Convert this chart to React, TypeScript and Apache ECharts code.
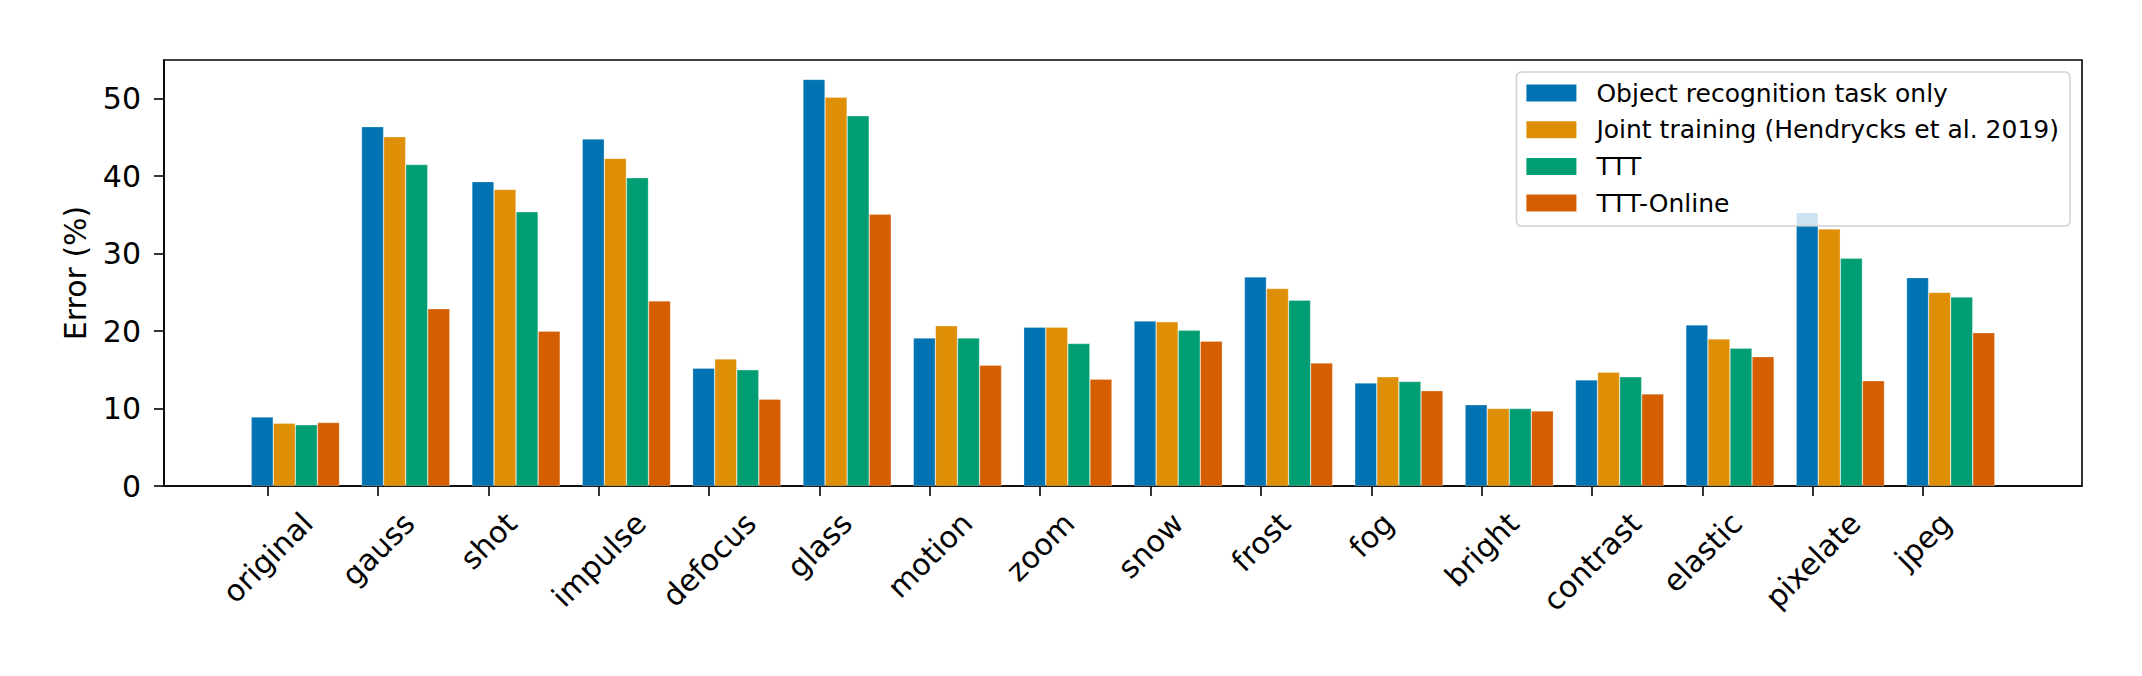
import { useEffect, useRef } from 'react';
import * as echarts from 'echarts';

// categories (corruption types) and one array per method, error in %
const CATEGORIES = [
  'original', 'gauss', 'shot', 'impulse', 'defocus', 'glass', 'motion', 'zoom',
  'snow', 'frost', 'fog', 'bright', 'contrast', 'elastic', 'pixelate', 'jpeg',
];
const SERIES_NAMES = [
  'Object recognition task only',
  'Joint training (Hendrycks et al. 2019)',
  'TTT',
  'TTT-Online',
];
const OBJECT_ONLY = [8.9, 46.4, 39.3, 44.8, 15.2, 52.5, 19.1, 20.5, 21.3, 27.0, 13.3, 10.5, 13.7, 20.8, 35.3, 26.9];
const JOINT = [8.1, 45.1, 38.3, 42.3, 16.4, 50.2, 20.7, 20.5, 21.2, 25.5, 14.1, 10.0, 14.7, 19.0, 33.2, 25.0];
const TTT = [7.9, 41.5, 35.4, 39.8, 15.0, 47.8, 19.1, 18.4, 20.1, 24.0, 13.5, 10.0, 14.1, 17.8, 29.4, 24.4];
const TTT_ONLINE = [8.2, 22.9, 20.0, 23.9, 11.2, 35.1, 15.6, 13.8, 18.7, 15.9, 12.3, 9.7, 11.9, 16.7, 13.6, 19.8];
const Y_TICKS = [0, 10, 20, 30, 40, 50];

const COLORS = ['#0173b2', '#de8f05', '#029e73', '#d55e00'];
const FONT = '"DejaVu Sans", sans-serif';

const WIDTH = 2142;
const HEIGHT = 676;
const GRID = { left: 164, right: 60, top: 60, bottom: 190 };
const X_MIN = -0.94;
const X_MAX = 16.44;
const GROUP_SHIFT = 0.25; // bar group centre sits a quarter unit right of the tick
const BAR_UNITS = 0.2;
const TICK_FONT = 30;

function textWidth(t: string, size: number) {
  const ctx = document.createElement('canvas').getContext('2d');
  if (!ctx) return t.length * size * 0.55;
  ctx.font = `${size}px "DejaVu Sans"`;
  return ctx.measureText(t).width;
}

export default function App() {
  const ref = useRef<HTMLDivElement>(null);

  useEffect(() => {
    if (!ref.current) return;
    const chart = echarts.init(ref.current, null, { renderer: 'svg' });

    const plotWidth = WIDTH - GRID.left - GRID.right;
    const barWidth = (BAR_UNITS * plotWidth) / (X_MAX - X_MIN);

    // rotated labels: centre the rotated box under the tick like matplotlib does
    const rich: Record<string, object> = {};
    CATEGORIES.forEach((c, i) => {
      const w = textWidth(c, TICK_FONT);
      rich['c' + i] = {
        fontSize: TICK_FONT,
        fontFamily: FONT,
        color: '#000',
        padding: [w / 2, w / 2, 0, 0],
      };
    });

    const allValues = [OBJECT_ONLY, JOINT, TTT, TTT_ONLINE];

    chart.setOption({
      animation: false,
      backgroundColor: '#fff',
      textStyle: { fontFamily: FONT },
      grid: {
        ...GRID,
        show: true,
        borderColor: '#000',
        borderWidth: 1.6,
        backgroundColor: 'transparent',
        outerBoundsMode: 'none',
      },
      legend: {
        data: SERIES_NAMES,
        orient: 'vertical',
        right: 72,
        top: 72,
        icon: 'rect',
        itemWidth: 50,
        itemHeight: 17,
        itemGap: 6.7,
        padding: [6, 11, 8, 10],
        backgroundColor: 'rgba(255,255,255,0.8)',
        borderColor: 'rgba(204,204,204,0.9)',
        borderWidth: 1.5,
        borderRadius: 5,
        itemStyle: { borderWidth: 0 },
        textStyle: {
          fontSize: 25,
          fontFamily: FONT,
          color: '#000',
          lineHeight: 30,
          padding: [0, 0, 0, 15],
        },
      },
      xAxis: {
        type: 'value',
        min: X_MIN,
        max: X_MAX,
        splitLine: { show: false },
        axisLine: { show: true, onZero: false, lineStyle: { color: '#000', width: 1.6 } },
        axisTick: {
          show: true,
          length: 10,
          lineStyle: { color: '#000', width: 1.6 },
          customValues: CATEGORIES.map((_, i) => i),
        },
        axisLabel: {
          customValues: CATEGORIES.map((_, i) => i),
          rotate: 45,
          align: 'center',
          verticalAlign: 'middle',
          margin: 32,
          fontSize: TICK_FONT,
          fontFamily: FONT,
          color: '#000',
          formatter: (v: number) => {
            const i = Math.round(v);
            return `{c${i}|${CATEGORIES[i]}}`;
          },
          rich,
        },
      },
      yAxis: {
        type: 'value',
        min: 0,
        max: 55,
        name: 'Error (%)',
        nameLocation: 'middle',
        nameGap: 74,
        nameTextStyle: { fontSize: TICK_FONT, fontFamily: FONT, color: '#000' },
        splitLine: { show: false },
        axisLine: { show: true, onZero: false, lineStyle: { color: '#000', width: 1.6 } },
        axisTick: {
          show: true,
          length: 10,
          lineStyle: { color: '#000', width: 1.6 },
          customValues: Y_TICKS,
        },
        axisLabel: {
          customValues: Y_TICKS,
          margin: 23,
          fontSize: TICK_FONT,
          fontFamily: FONT,
          color: '#000',
        },
      },
      series: SERIES_NAMES.map((name, k) => ({
        name,
        type: 'bar',
        barWidth,
        barGap: '0%',
        itemStyle: {
          color: COLORS[k],
          borderColor: 'rgba(255,255,255,0.45)',
          borderWidth: 0.6,
        },
        data: allValues[k].map((v, i) => [i + GROUP_SHIFT, v]),
      })),
    });

    return () => chart.dispose();
  }, []);

  return (
    <div
      ref={ref}
      style={{ position: 'absolute', left: 0, top: 0, width: WIDTH, height: HEIGHT, background: '#fff' }}
    />
  );
}
